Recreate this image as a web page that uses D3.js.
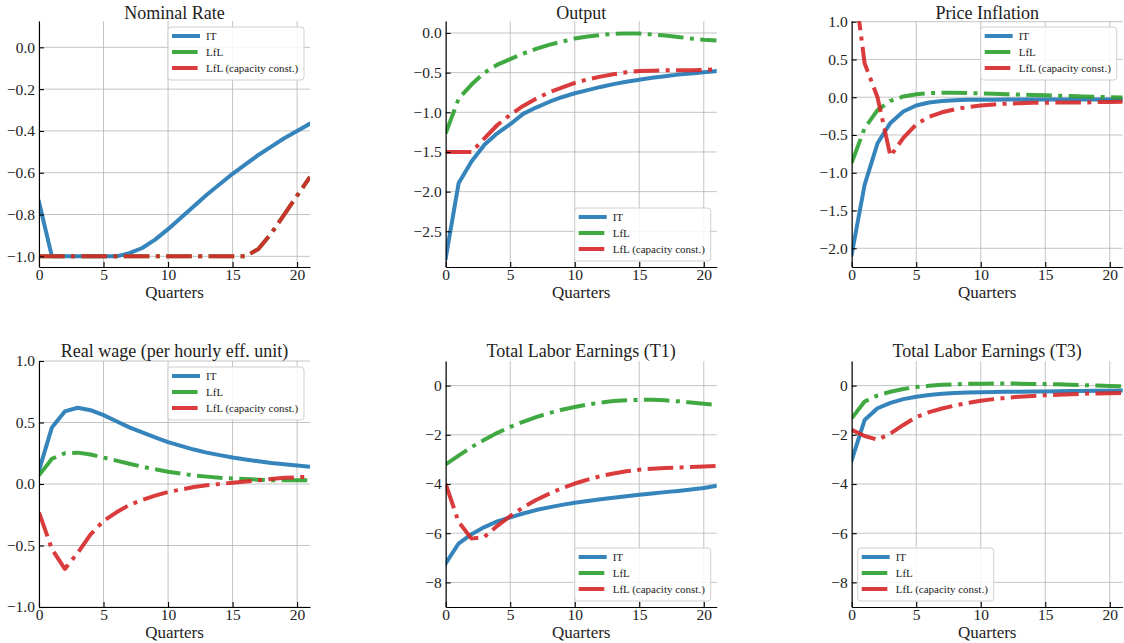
<!DOCTYPE html>
<html><head><meta charset="utf-8">
<script src="https://cdn.jsdelivr.net/npm/d3@7"></script>
<style>
body{margin:0;background:#fff}
svg{display:block}
text{font-family:"Liberation Serif","DejaVu Serif",serif;fill:#222}
</style>
</head><body>
<svg id="chart" width="1124" height="643"></svg>
<script>
// ---------------- data ----------------
const quarters = d3.range(0, 22);
const seriesNames = ["IT", "LfL", "LfL (capacity const.)"];
const xTicks = [0, 5, 10, 15, 20];

const nomIT  = [-0.74,-1.0,-1.0,-1.0,-1.0,-1.0,-1.0,-0.985,-0.96,-0.92,-0.87,-0.815,-0.76,-0.705,-0.655,-0.605,-0.56,-0.515,-0.475,-0.435,-0.40,-0.365];
const nomLfL = [-1,-1,-1,-1,-1,-1,-1,-1,-1,-1,-1,-1,-1,-1,-1,-1,-1,-0.965,-0.89,-0.80,-0.71,-0.62];
const nomCap = [-1,-1,-1,-1,-1,-1,-1,-1,-1,-1,-1,-1,-1,-1,-1,-1,-1,-0.965,-0.89,-0.80,-0.71,-0.62];

const outIT  = [-2.84,-1.895,-1.62,-1.41,-1.265,-1.15,-1.02,-0.94,-0.87,-0.81,-0.76,-0.72,-0.68,-0.645,-0.615,-0.59,-0.565,-0.545,-0.525,-0.51,-0.495,-0.48];
const outLfL = [-1.265,-0.83,-0.65,-0.50,-0.40,-0.33,-0.26,-0.20,-0.15,-0.11,-0.07,-0.045,-0.025,-0.012,-0.005,-0.008,-0.018,-0.033,-0.05,-0.07,-0.085,-0.095];
const outCap = [-1.5,-1.5,-1.5,-1.33,-1.16,-1.03,-0.92,-0.83,-0.75,-0.69,-0.63,-0.585,-0.55,-0.52,-0.495,-0.48,-0.475,-0.47,-0.47,-0.47,-0.465,-0.46];

const infIT  = [-2.08,-1.16,-0.61,-0.34,-0.19,-0.11,-0.07,-0.05,-0.04,-0.035,-0.033,-0.032,-0.031,-0.03,-0.03,-0.03,-0.03,-0.03,-0.03,-0.03,-0.03,-0.03];
const infLfL = [-0.87,-0.41,-0.17,-0.05,0.01,0.04,0.055,0.06,0.06,0.055,0.05,0.045,0.04,0.035,0.03,0.025,0.02,0.015,0.01,0.005,0.0,-0.005];
const infCap = [1.78,0.45,0.0,-0.78,-0.54,-0.36,-0.26,-0.2,-0.16,-0.13,-0.11,-0.095,-0.085,-0.08,-0.075,-0.075,-0.07,-0.07,-0.07,-0.065,-0.065,-0.06];

const wageIT  = [0.11,0.46,0.59,0.62,0.60,0.56,0.51,0.46,0.42,0.38,0.34,0.31,0.28,0.255,0.235,0.215,0.20,0.185,0.17,0.16,0.15,0.14];
const wageLfL = [0.07,0.205,0.25,0.255,0.24,0.215,0.19,0.165,0.14,0.12,0.10,0.085,0.07,0.06,0.05,0.045,0.04,0.035,0.03,0.03,0.03,0.03];
const wageCap = [-0.23,-0.53,-0.69,-0.56,-0.41,-0.30,-0.23,-0.17,-0.13,-0.095,-0.065,-0.045,-0.025,-0.01,0.0,0.01,0.02,0.03,0.04,0.05,0.055,0.06];

const t1IT  = [-7.23,-6.42,-6.04,-5.75,-5.52,-5.36,-5.2,-5.06,-4.95,-4.85,-4.76,-4.69,-4.62,-4.56,-4.50,-4.44,-4.39,-4.33,-4.28,-4.22,-4.16,-4.07];
const t1LfL = [-3.2,-2.85,-2.5,-2.2,-1.92,-1.68,-1.47,-1.28,-1.12,-0.98,-0.87,-0.77,-0.69,-0.63,-0.6,-0.58,-0.58,-0.6,-0.64,-0.69,-0.74,-0.78];
const t1Cap = [-4.0,-5.54,-6.22,-6.15,-5.7,-5.3,-4.95,-4.65,-4.4,-4.17,-3.98,-3.82,-3.68,-3.57,-3.48,-3.42,-3.38,-3.35,-3.33,-3.31,-3.29,-3.27];

const t3IT  = [-3.03,-1.4,-0.92,-0.7,-0.55,-0.45,-0.38,-0.33,-0.3,-0.28,-0.27,-0.26,-0.25,-0.245,-0.24,-0.235,-0.23,-0.22,-0.215,-0.21,-0.205,-0.2];
const t3LfL = [-1.33,-0.65,-0.4,-0.25,-0.14,-0.06,-0.01,0.03,0.05,0.07,0.08,0.085,0.085,0.08,0.07,0.06,0.05,0.03,0.02,0.0,-0.02,-0.03];
const t3Cap = [-1.8,-2.05,-2.2,-1.95,-1.6,-1.28,-1.08,-0.93,-0.81,-0.7,-0.62,-0.55,-0.5,-0.45,-0.42,-0.39,-0.37,-0.35,-0.33,-0.32,-0.31,-0.3];

const titles = ["Nominal Rate","Output","Price Inflation","Real wage (per hourly eff. unit)","Total Labor Earnings (T1)","Total Labor Earnings (T3)"];
const yTickSets = [
  [0,-0.2,-0.4,-0.6,-0.8,-1.0],
  [0,-0.5,-1.0,-1.5,-2.0,-2.5],
  [1.0,0.5,0,-0.5,-1.0,-1.5,-2.0],
  [1.0,0.5,0,-0.5,-1.0],
  [0,-2,-4,-6,-8],
  [0,-2,-4,-6,-8]
];
const yDomains = [[-1.051,0.126],[-2.95,0.151],[-2.248,1.009],[-1.0,1.0],[-9,1],[-9,1]];
const yFormats = [".1f",".1f",".1f",".1f","d","d"];
const legendLocs = ["ur","lr","ur","ur","lr","ll"];
const panelSeries = [
  [nomIT,nomLfL,nomCap],[outIT,outLfL,outCap],[infIT,infLfL,infCap],
  [wageIT,wageLfL,wageCap],[t1IT,t1LfL,t1Cap],[t3IT,t3LfL,t3Cap]
];

// ---------------- styles / layout ----------------
const colors = ["#1f77b4","#2ca02c","#d62728"];
const dashes = [null, "25.6,6.4,4,6.4", "25.6,6.4,4,6.4"];
const colLeft = [39, 445.7, 851.7];
const rowTop = [21, 361];
const W = 271, H = 246;
const FONT = '"Liberation Serif","DejaVu Serif",serif';

const svg = d3.select("#chart");
svg.append("rect").attr("width",1124).attr("height",643).attr("fill","#fff");

titles.forEach((title, i) => {
  const col = i % 3, row = Math.floor(i / 3);
  const L = colLeft[col], T = rowTop[row];
  const g = svg.append("g").attr("transform", `translate(${L},${T})`);
  const x = d3.scaleLinear().domain([0, 21]).range([0, W]);
  const y = d3.scaleLinear().domain(yDomains[i]).range([H, 0]);

  // grid
  g.append("g").selectAll("line").data(xTicks).join("line")
    .attr("x1", d => x(d)).attr("x2", d => x(d)).attr("y1", 0).attr("y2", H)
    .attr("stroke", "#b0b0b0").attr("stroke-width", 1).attr("stroke-opacity", 0.75);
  g.append("g").selectAll("line").data(yTickSets[i]).join("line")
    .attr("x1", 0).attr("x2", W).attr("y1", d => y(d)).attr("y2", d => y(d))
    .attr("stroke", "#b0b0b0").attr("stroke-width", 1).attr("stroke-opacity", 0.75);

  // lines
  const clipId = "clip" + i;
  g.append("clipPath").attr("id", clipId).append("rect").attr("width", W).attr("height", H);
  const line = d3.line().x((d, k) => x(quarters[k])).y(d => y(d));
  const lg = g.append("g").attr("clip-path", `url(#${clipId})`);
  panelSeries[i].forEach((s, k) => {
    lg.append("path").datum(s).attr("d", line)
      .attr("fill", "none").attr("stroke", colors[k]).attr("stroke-opacity", 0.9)
      .attr("stroke-width", 4)
      .attr("stroke-dasharray", dashes[k])
      .attr("stroke-linejoin", "round")
      .attr("stroke-linecap", dashes[k] ? "butt" : "square");
  });

  // axes
  const fmt = d3.format(yFormats[i]);
  const ax = g.append("g").call(d3.axisLeft(y).tickValues(yTickSets[i]).tickFormat(fmt)
      .tickSizeInner(-5).tickSizeOuter(0).tickPadding(4));
  const bx = g.append("g").attr("transform", `translate(0,${H})`)
    .call(d3.axisBottom(x).tickValues(xTicks).tickFormat(d3.format("d"))
      .tickSizeInner(-5).tickSizeOuter(0).tickPadding(2));
  [ax, bx].forEach(a => {
    a.select(".domain").attr("stroke", "#000").attr("stroke-width", 1.1);
    a.selectAll(".tick line").attr("stroke", "#000").attr("stroke-width", 1.1);
    a.selectAll(".tick text").attr("font-size", 15.5)
      .style("font-family", FONT).attr("fill", "#222");
  });

  // title & xlabel
  g.append("text").attr("x", W / 2).attr("y", row === 0 ? -2 : -4)
    .attr("text-anchor", "middle").attr("font-size", 18).text(title);
  g.append("text").attr("x", W / 2).attr("y", H + 31)
    .attr("text-anchor", "middle").attr("font-size", 17).text("Quarters");

  // legend
  const lw = 136, lh = 53, pad = 6;
  const loc = legendLocs[i];
  const lx = loc === "ll" ? pad : W - pad - lw;
  const ly = loc === "ur" ? pad : H - pad - lh;
  const leg = g.append("g").attr("transform", `translate(${lx},${ly})`);
  leg.append("rect").attr("width", lw).attr("height", lh).attr("rx", 3)
    .attr("fill", "#fff").attr("fill-opacity", 0.85)
    .attr("stroke", "#d0d0d0").attr("stroke-width", 1);
  seriesNames.forEach((name, k) => {
    const cy = 9 + k * 16;
    leg.append("line").attr("x1", 4).attr("x2", 32).attr("y1", cy).attr("y2", cy)
      .attr("stroke", colors[k]).attr("stroke-opacity", 0.9).attr("stroke-width", 4)
      .attr("stroke-dasharray", dashes[k]);
    leg.append("text").attr("x", 38).attr("y", cy + 4).attr("font-size", 11).text(name);
  });
});
</script>
</body></html>
